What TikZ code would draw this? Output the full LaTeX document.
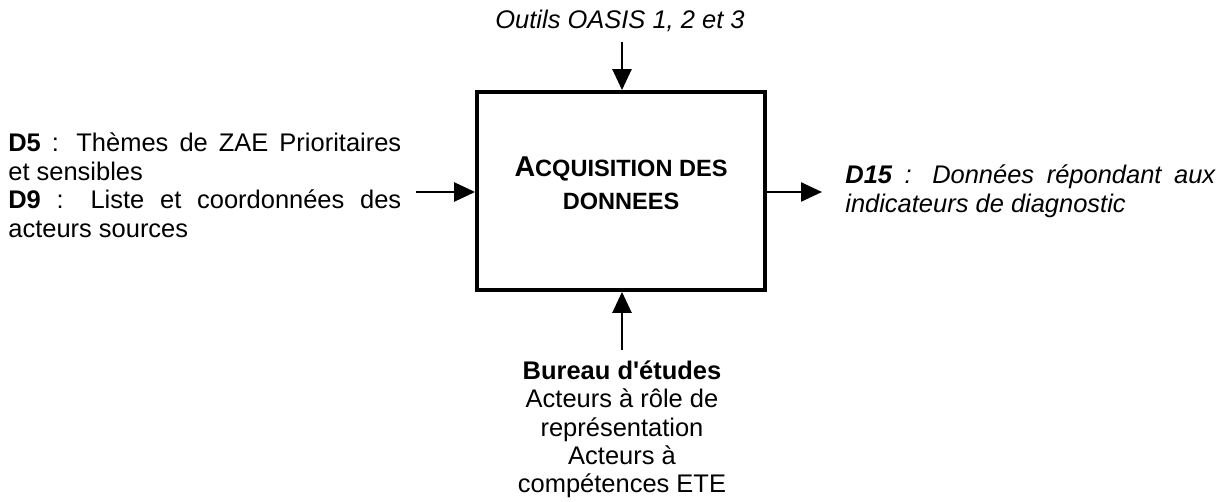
\documentclass[tikz,border=0pt]{standalone}
\usepackage{fontspec}
\setmainfont{Liberation Sans}
\usetikzlibrary{arrows.meta}
\begin{document}
\begin{tikzpicture}[x=0.02cm,y=-0.02cm,
  body/.style={inner sep=0pt,font=\fontsize{14.5}{16.2}\selectfont},
  flow/.style={line width=1.4pt,-{Triangle[length=0.42cm,width=0.38cm]}},
  procbox/.style={draw,line width=2.2pt,inner sep=0pt,minimum width=5.76cm,minimum height=3.96cm}]
\useasboundingbox (0,0) rectangle (1225,502);
% main box
\node[procbox] (box) at (621,191) {};
\node[inner sep=0pt,anchor=base,align=center,font=\bfseries\fontsize{13.4}{19.2}\selectfont] (title) at (621,210)
  {{\fontsize{16.3}{19.2}\selectfont A}CQUISITION DES\\DONNEES};
% top
\node[body,anchor=base,font=\itshape\fontsize{14.5}{16.2}\selectfont] (ctrl) at (620,29) {Outils OASIS 1, 2 et 3};
\coordinate (ctrlend) at (622,42);
\draw[flow] (ctrlend) -- (box.north -| ctrlend);
% left
\node[body,anchor=base west,text width=7.86cm,align=justify] (inp) at (8,151.7)
  {\textbf{D5} : Thèmes de ZAE Prioritaires\linebreak et sensibles\par
   \textbf{D9} : Liste et coordonnées des\linebreak acteurs sources};
\coordinate (inend) at (416,192);
\draw[flow] (inend) -- (box.west |- inend);
% right
\coordinate (outstart) at (765,192);
\node[body,anchor=base west,text width=7.4cm,align=justify,font=\itshape\fontsize{14.5}{16.2}\selectfont] (out) at (845,184)
  {\textbf{D15} : Données répondant aux\linebreak indicateurs de diagnostic};
\draw[flow] (box.east |- outstart) -- (822,192) coordinate (outend);
% bottom
\node[body,anchor=base,align=center] (mech) at (622,493)
  {\textbf{Bureau d\textquotesingle études}\\Acteurs à rôle de\\représentation\\Acteurs à\\compétences ETE};
\coordinate (mechend) at (622,350);
\draw[flow] (mechend) -- (box.south -| mechend);
\end{tikzpicture}
\end{document}
